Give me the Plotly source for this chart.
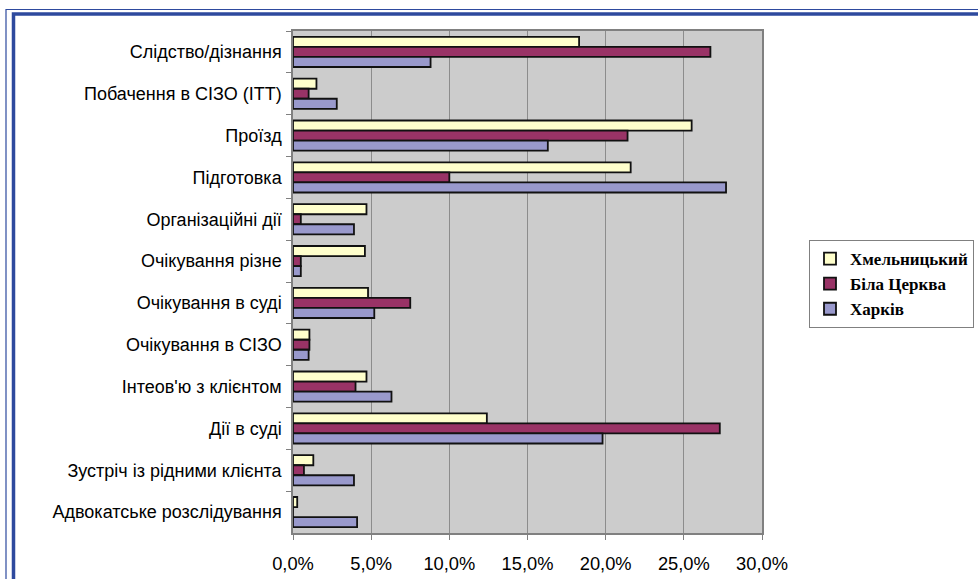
import plotly.graph_objects as go

categories = [
    "Слідство/дізнання",
    "Побачення в СІЗО (ІТТ)",
    "Проїзд",
    "Підготовка",
    "Організаційні дії",
    "Очікування різне",
    "Очікування в суді",
    "Очікування в СІЗО",
    "Інтеов'ю з клієнтом",
    "Дії в суді",
    "Зустріч із рідними клієнта",
    "Адвокатське розслідування",
]
khmelnytskyi = [18.3, 1.5, 25.5, 21.6, 4.7, 4.6, 4.8, 1.05, 4.7, 12.4, 1.3, 0.27]
bila_tserkva = [26.7, 1.0, 21.4, 10.0, 0.5, 0.5, 7.5, 1.05, 4.0, 27.3, 0.7, 0.0]
kharkiv = [8.8, 2.8, 16.3, 27.7, 3.9, 0.5, 5.2, 1.0, 6.3, 19.8, 3.9, 4.1]

series = [
    ("Хмельницький", khmelnytskyi, "#FFFFCC"),
    ("Біла Церква", bila_tserkva, "#993366"),
    ("Харків", kharkiv, "#9999CC"),
]
x_ticks = [0, 5, 10, 15, 20, 25, 30]

W, H = 978, 579
L, R, T, B = 293, 762, 31, 533

fig = go.Figure()
for name, vals, color in series:
    fig.add_trace(go.Bar(
        y=categories, x=vals, name=name, orientation="h",
        marker=dict(color=color, line=dict(color="#111111", width=1.8)),
    ))

def px_x(p):
    return (p - L) / (R - L)

def px_y(p):
    return (B - p) / (B - T)

shapes = [
    dict(type="rect", xref="paper", yref="paper",
         x0=px_x(6), x1=px_x(W + 20), y0=px_y(H + 20), y1=px_y(9.5),
         line=dict(color="#2E4A9E", width=1.2), fillcolor="rgba(0,0,0,0)", layer="above"),
    dict(type="rect", xref="paper", yref="paper",
         x0=px_x(13.5), x1=px_x(W + 20), y0=px_y(H + 20), y1=px_y(14),
         line=dict(color="#2E4A9E", width=3.5), fillcolor="rgba(0,0,0,0)", layer="above"),
]

fig.update_layout(
    width=W, height=H,
    margin=dict(l=L, r=W - R, t=T, b=H - B, autoexpand=False),
    barmode="group", bargap=0.28, bargroupgap=0,
    plot_bgcolor="#CCCCCC", paper_bgcolor="white",
    font=dict(family="Liberation Sans, Arial", size=18, color="black"),
    shapes=shapes,
    showlegend=True,
    legend=dict(
        x=px_x(809), y=px_y(240), xanchor="left", yanchor="top",
        bgcolor="white", bordercolor="#808080", borderwidth=1,
        font=dict(family="Liberation Serif, Times New Roman", size=17, color="black", weight="bold"),
        traceorder="normal", tracegroupgap=0,
    ),
    xaxis=dict(
        range=[0, 30], tickvals=x_ticks,
        ticktext=[f"{v:.1f}%".replace(".", ",") for v in x_ticks],
        showgrid=True, gridcolor="#8C8C8C", gridwidth=1,
        showline=True, linecolor="#808080", linewidth=1.5, mirror=True,
        ticks="outside", ticklen=5, tickcolor="#808080",
        tickfont=dict(size=18.3), zeroline=False, ticklabelstandoff=8,
    ),
    yaxis=dict(
        categoryorder="array", categoryarray=categories, autorange="reversed",
        showgrid=False, showline=True, linecolor="#808080", linewidth=1.5, mirror=True,
        ticks="outside", ticklen=5, tickcolor="#808080", tickson="boundaries",
        tickfont=dict(size=18), ticklabelstandoff=6,
    ),
)

fig.write_html("out.html", config={"displayModeBar": False},
               post_script="document.body.style.margin='0px';")
